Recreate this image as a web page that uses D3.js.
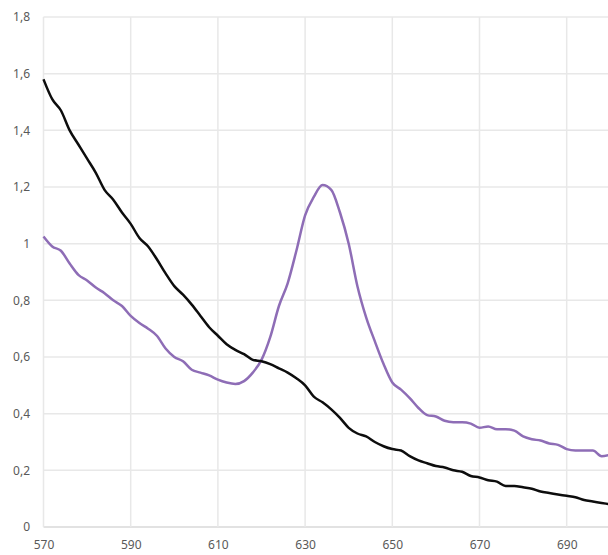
<!DOCTYPE html>
<html><head><meta charset="utf-8">
<script src="https://cdn.jsdelivr.net/npm/d3@7"></script>
<style>
html,body{margin:0;padding:0;background:#fff;overflow:hidden}
svg{display:block}
.tick text{font-family:"Noto Sans","Open Sans",sans-serif;font-size:12px;fill:#595959}
</style></head>
<body>
<svg id="c" width="608" height="555"></svg>
<script>
const wavelengths = [570,572,574,576,578,580,582,584,586,588,590,592,594,596,598,600,602,604,606,608,610,612,614,616,618,620,622,624,626,628,630,632,634,636,638,640,642,644,646,648,650,652,654,656,658,660,662,664,666,668,670,672,674,676,678,680,682,684,686,688,690,692,694,696,698,700];
const blackSeries = [1.58,1.51,1.47,1.40,1.35,1.30,1.25,1.19,1.155,1.11,1.07,1.02,0.99,0.945,0.895,0.85,0.82,0.785,0.745,0.705,0.675,0.645,0.625,0.61,0.59,0.585,0.575,0.56,0.545,0.525,0.50,0.46,0.44,0.415,0.385,0.35,0.33,0.32,0.30,0.285,0.275,0.27,0.25,0.235,0.225,0.215,0.21,0.20,0.195,0.18,0.175,0.165,0.16,0.145,0.145,0.14,0.135,0.125,0.12,0.115,0.11,0.105,0.095,0.09,0.085,0.08];
const purpleSeries = [1.025,0.99,0.975,0.93,0.89,0.87,0.845,0.825,0.80,0.78,0.745,0.72,0.70,0.675,0.63,0.60,0.585,0.555,0.545,0.535,0.52,0.51,0.505,0.515,0.545,0.59,0.67,0.78,0.86,0.975,1.10,1.165,1.207,1.19,1.11,1.00,0.85,0.74,0.655,0.575,0.51,0.485,0.455,0.42,0.395,0.39,0.375,0.37,0.37,0.365,0.35,0.355,0.345,0.345,0.34,0.32,0.31,0.305,0.295,0.29,0.275,0.27,0.27,0.27,0.25,0.255];
const xTicks = [570,590,610,630,650,670,690];
const yTicks = [0,0.2,0.4,0.6,0.8,1.0,1.2,1.4,1.6,1.8];

const svg = d3.select("#c");
const x = d3.scaleLinear().domain([570,700]).range([43.5,610.3]);
const y = d3.scaleLinear().domain([0,1.8]).range([527,17]);
const fmt = v => d3.format(".1~f")(v).replace(".", ",");

// horizontal gridlines
svg.append("g").selectAll("line").data(yTicks).join("line")
  .attr("x1", x(570)).attr("x2", 608)
  .attr("y1", d=>y(d)).attr("y2", d=>y(d))
  .attr("stroke", d=> d===0 ? "#d9d9d9" : "#e8e8e8").attr("stroke-width",1.5);
// vertical gridlines
svg.append("g").selectAll("line").data(xTicks).join("line")
  .attr("x1", d=>x(d)).attr("x2", d=>x(d))
  .attr("y1", y(1.8)).attr("y2", y(0))
  .attr("stroke", "#e8e8e8").attr("stroke-width",1.5);

// axes (labels only)
const yAxis = d3.axisLeft(y).tickValues(yTicks).tickFormat(fmt).tickSize(0).tickPadding(0);
const gy = svg.append("g").attr("transform","translate(30,0)").call(yAxis);
gy.select(".domain").remove();
gy.selectAll("text").attr("dy","0.32em");

const xAxis = d3.axisBottom(x).tickValues(xTicks).tickFormat(d=>d).tickSize(0).tickPadding(0);
const gx = svg.append("g").attr("transform","translate(0,540)").call(xAxis);
gx.select(".domain").remove();
gx.selectAll("text").attr("dy","0.71em");

const line = d3.line().curve(d3.curveMonotoneX)
  .x((d,i)=>x(wavelengths[i])).y(d=>y(d));

svg.append("path").datum(purpleSeries).attr("d", line)
  .attr("fill","none").attr("stroke","#8e6db6").attr("stroke-width",2.5).attr("stroke-linejoin","round");
svg.append("path").datum(blackSeries).attr("d", line)
  .attr("fill","none").attr("stroke","#0d0d0d").attr("stroke-width",2.5).attr("stroke-linejoin","round");
</script>
</body></html>
